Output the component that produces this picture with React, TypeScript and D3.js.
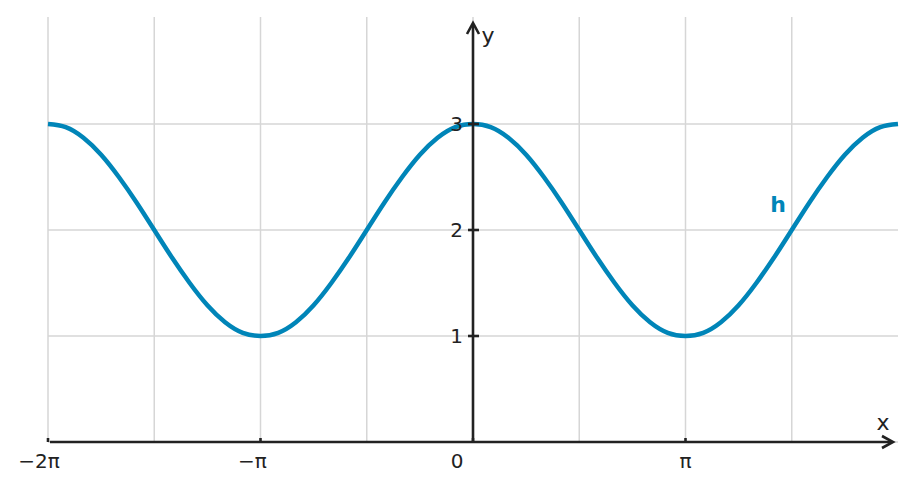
import React from "react";
import * as d3 from "d3";

// sample points of h, x in multiples of π (step π/12)
const xPi = [
  -24, -23, -22, -21, -20, -19, -18, -17, -16, -15, -14, -13,
  -12, -11, -10, -9, -8, -7, -6, -5, -4, -3, -2, -1,
  0, 1, 2, 3, 4, 5, 6, 7, 8, 9, 10, 11,
  12, 13, 14, 15, 16, 17, 18, 19, 20, 21, 22, 23, 24,
].map((k) => k / 12);
const hValues = [
  3, 2.97, 2.87, 2.71, 2.5, 2.26, 2, 1.74, 1.5, 1.29, 1.13, 1.03,
  1, 1.03, 1.13, 1.29, 1.5, 1.74, 2, 2.26, 2.5, 2.71, 2.87, 2.97,
  3, 2.97, 2.87, 2.71, 2.5, 2.26, 2, 1.74, 1.5, 1.29, 1.13, 1.03,
  1, 1.03, 1.13, 1.29, 1.5, 1.74, 2, 2.26, 2.5, 2.71, 2.87, 2.97, 3,
];
const gridX = [-2, -1.5, -1, -0.5, 0, 0.5, 1, 1.5];
const gridY = [0, 1, 2, 3];
const xTicks = [
  { v: -2, label: "−2π", dx: -9 },
  { v: -1, label: "−π", dx: -8 },
  { v: 0, label: "0", dx: -16 },
  { v: 1, label: "π", dx: 0 },
];
const yTicks = [1, 2, 3];

const W = 917;
const H = 491;
const ink = "#222";
const blue = "#0085b8";
const font = "DejaVu Sans, sans-serif";

export default function App() {
  const x = d3.scaleLinear().domain([-2, 2]).range([48, 898]);
  const y = d3.scaleLinear().domain([0, 4]).range([442, 18]);

  const pts = xPi.map((v, i) => [v, hValues[i]] as [number, number]);
  const line = d3
    .line<[number, number]>()
    .x((d) => x(d[0]))
    .y((d) => y(d[1]))
    .curve(d3.curveNatural);

  const x0 = x(0);
  const y0 = y(0);
  const xEnd = 893;
  const yTop = 23;

  return (
    <svg
      width={W}
      height={H}
      style={{ position: "absolute", left: 0, top: 0, background: "#fff" }}
      fontFamily={font}
    >
      <g stroke="#d6d6d6" strokeWidth={1.5}>
        {gridX.map((g) => (
          <line key={"gx" + g} x1={x(g)} x2={x(g)} y1={y(4) - 1} y2={y0} />
        ))}
        {gridY.map((g) => (
          <line key={"gy" + g} x1={x(-2)} x2={x(2)} y1={y(g)} y2={y(g)} />
        ))}
      </g>

      <path d={line(pts) ?? ""} fill="none" stroke={blue} strokeWidth={4.5} />

      <g stroke={ink} strokeWidth={2.6} fill="none" strokeLinecap="butt">
        <line x1={x(-2) + 2} x2={xEnd - 1} y1={y0} y2={y0} />
        <line x1={x0} x2={x0} y1={y0 + 1} y2={yTop + 1} />
        <path d={`M${xEnd - 11},${y0 - 6} L${xEnd},${y0} L${xEnd - 11},${y0 + 6}`} />
        <path d={`M${x0 - 6},${yTop + 11} L${x0},${yTop} L${x0 + 6},${yTop + 11}`} />
        {xTicks.map((t) => (
          <line key={"xt" + t.v} x1={x(t.v)} x2={x(t.v)} y1={y0 - 4} y2={y0} />
        ))}
        {yTicks.map((t) => (
          <line key={"yt" + t} x1={x0 - 5} x2={x0 + 6} y1={y(t)} y2={y(t)} />
        ))}
      </g>

      <g fill={ink} fontSize={20}>
        {xTicks.map((t) => (
          <text key={"xl" + t.v} x={x(t.v) + t.dx} y={468} textAnchor="middle">
            {t.label}
          </text>
        ))}
        {yTicks.map((t) => (
          <text key={"yl" + t} x={x0 - 10} y={y(t) + 7} textAnchor="end">
            {t}
          </text>
        ))}
        <text x={883} y={430} textAnchor="middle" fontSize={22}>
          x
        </text>
        <text x={488} y={43} textAnchor="middle" fontSize={22}>
          y
        </text>
      </g>

      <text x={778} y={212} textAnchor="middle" fill={blue} fontSize={22} fontWeight="bold">
        h
      </text>
    </svg>
  );
}
